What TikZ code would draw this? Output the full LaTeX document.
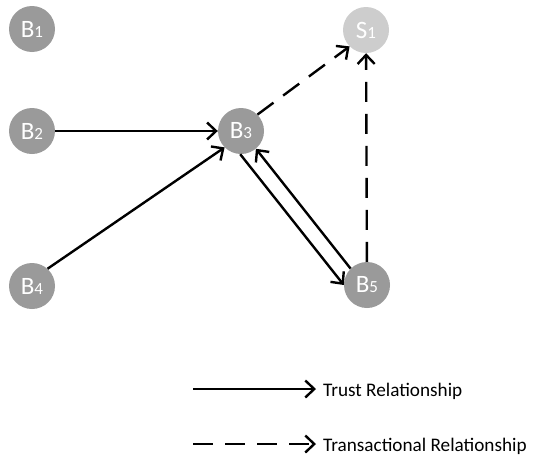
\documentclass[tikz,border=0pt]{standalone}
\usepackage{fontspec}
\setmainfont{Carlito}
\usetikzlibrary{arrows.meta}

\definecolor{buyer}{HTML}{9A9A9A}
\definecolor{seller}{HTML}{CDCDCD}

\tikzset{
  peer/.style={circle, fill=buyer, minimum size=46pt, inner sep=0pt,
    text=white, font=\fontsize{25}{27}\selectfont},
  sellerpeer/.style={peer, fill=seller},
  trust/.style={line width=2.4pt, -{Straight Barb[length=9pt,width=17pt,line width=2.4pt]}},
  trade/.style={trust, dash pattern=on 20pt off 12pt},
  legendtext/.style={anchor=base west, inner sep=0pt, font=\fontsize{19.2}{21}\selectfont}
}
\newcommand{\idx}[1]{{\fontsize{17}{18}\selectfont #1}}

\begin{document}
\begin{tikzpicture}[x=1pt, y=-1pt]
  \useasboundingbox (0,0) rectangle (534,455);

  % peers
  \node[peer] (b1) at (32,29) {B\idx{1}};
  \node[peer] (b2) at (32,131) {B\idx{2}};
  \node[peer] (b3) at (241,131) {B\idx{3}};
  \node[peer] (b4) at (32,286) {B\idx{4}};
  \node[peer] (b5) at (367,285) {B\idx{5}};
  \node[sellerpeer] (s1) at (366,30) {S\idx{1}};

  % trust relations
  \draw[trust] (b2) -- (b3);
  \draw[trust] (b4.48) -- (b3.225);
  \draw[trust] (b3.268) -- (b5.180);
  \draw[trust] (b5.135) -- (b3.310);

  % transactional relations
  \draw[trade] (b3.45) -- (s1.225);
  \draw[trade] (b5) -- (s1);

  % legend
  \coordinate (l1a) at (193,389);
  \coordinate (l1b) at (316,389);
  \coordinate (l2a) at (193,444);
  \coordinate (l2b) at (316,444);
  \draw[trust] (l1a) -- (l1b);
  \draw[trade] (l2a) -- (l2b);
  \node[legendtext] (t1) at (323,396) {Trust Relationship};
  \node[legendtext] (t2) at (323,451) {Transactional Relationship};
\end{tikzpicture}
\end{document}
